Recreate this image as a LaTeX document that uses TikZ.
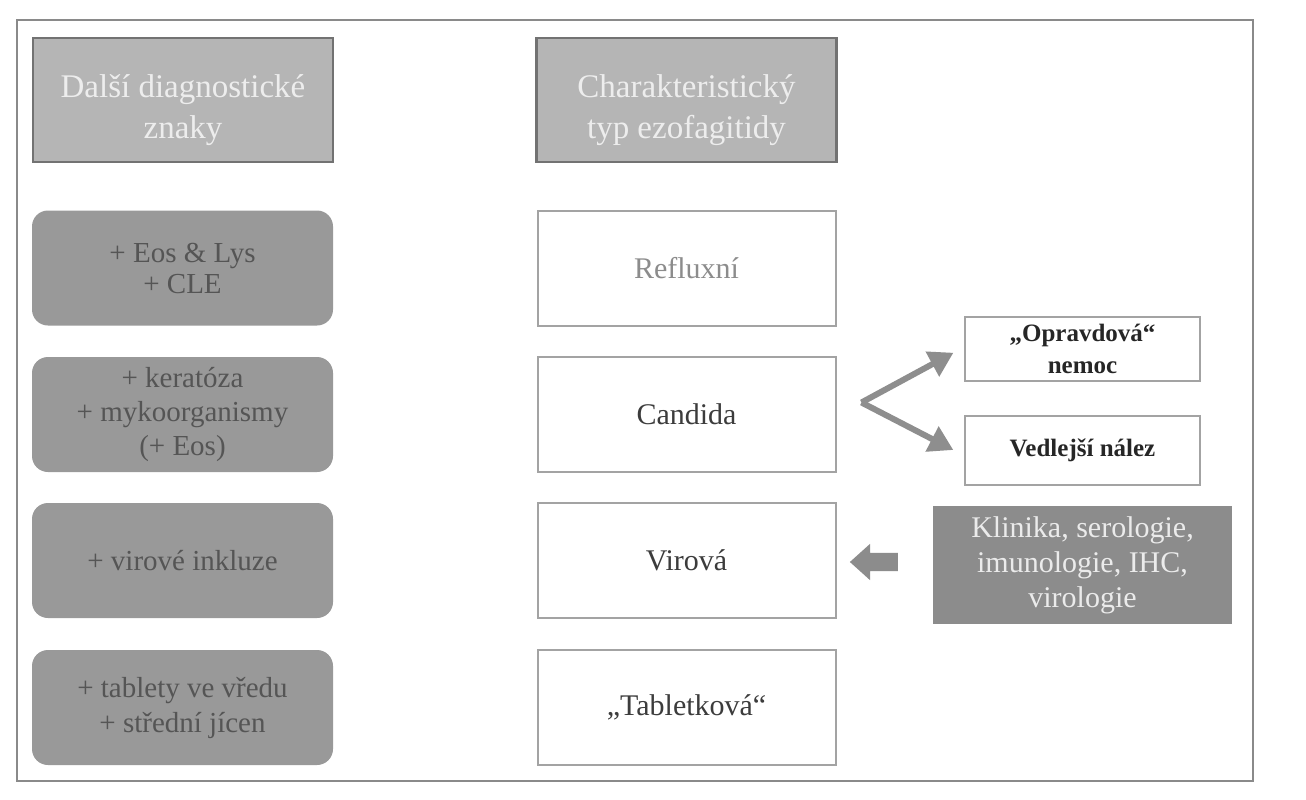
\documentclass[tikz,border=0pt]{standalone}
\usepackage{fontspec}
\setmainfont{Liberation Serif}
\usetikzlibrary{shapes.arrows,arrows.meta}
\definecolor{frame}{HTML}{8A8A8A}
\definecolor{hdrfill}{HTML}{B5B5B5}
\definecolor{hdrline}{HTML}{727272}
\definecolor{lfill}{HTML}{999999}
\definecolor{ltext}{HTML}{555555}
\definecolor{mline}{HTML}{A3A3A3}
\definecolor{dtext}{HTML}{3C3C3C}
\definecolor{kfill}{HTML}{8C8C8C}
\definecolor{arr}{HTML}{8E8E8E}
\tikzset{
  hdr/.style={draw=hdrline, line width=2.5pt, fill=hdrfill,
    minimum width=300pt, minimum height=124pt, inner sep=0pt},
  hdrtext/.style={text=white!93!black, align=center, font=\fontsize{33}{41}\selectfont, inner sep=0pt},
  sign/.style={fill=lfill, rounded corners=16pt, text=ltext, align=center,
    minimum width=301pt, minimum height=115pt, font=\fontsize{29}{31}\selectfont, inner sep=0pt},
  kind/.style={draw=mline, line width=2pt, fill=white, text=dtext, align=center,
    minimum width=298pt, minimum height=115pt, font=\fontsize{30}{32}\selectfont, inner sep=0pt},
  small/.style={draw=mline, line width=2pt, fill=white, text=black!85, align=center,
    minimum width=235pt, font=\fontsize{25}{32}\bfseries\selectfont, inner sep=0pt},
  info/.style={fill=kfill, text=white!92!black, align=center,
    minimum width=299pt, minimum height=118pt, font=\fontsize{30}{35}\selectfont, inner sep=0pt},
  split/.style={draw=arr, line width=6pt, -{Triangle[length=24pt,width=27pt]}, shorten >=12pt}
}
\begin{document}
\begin{tikzpicture}[x=1pt,y=-1pt]
\useasboundingbox (0,0) rectangle (1306,800);
\fill[white] (0,0) rectangle (1306,800);
\draw[frame, line width=2.5pt] (17,20) rectangle (1253,781);

\node[hdr] (hL) at (183,100) {};
\node[hdrtext] (hLt) at ([yshift=-10pt]hL.center) {Další diagnostické\\znaky};
\node[hdr] (hM) at (686.5,100) {};
\node[hdrtext] (hMt) at ([yshift=-10pt]hM.center) {Charakteristický\\typ ezofagitidy};

\node[sign] (s1) at (182.5,268) {+ Eos \& Lys\\+ CLE};
\node[sign, font=\fontsize{29}{34}\selectfont] (s2) at (182.5,414.5) {+ keratóza\\+ mykoorganismy\\(+ Eos)};
\node[sign] (s3) at (182.5,560.5) {+ virové inkluze};
\node[sign, font=\fontsize{29}{35}\selectfont] (s4) at (182.5,707.5) {+ tablety ve vředu\\+ střední jícen};

\node[kind, text=black!45] (k1) at (686.5,268) {Refluxní};
\node[kind] (k2) at (686.5,414.5) {Candida};
\node[kind] (k3) at (686.5,560.5) {Virová};
\node[kind] (k4) at (686.5,707.5) {„Tabletková“};

\node[small, minimum height=64pt] (o1) at (1082.5,349) {„Opravdová“\\nemoc};
\node[small, minimum height=69pt] (o2) at (1082.5,450.5) {Vedlejší nález};

\node[info] (inf) at (1082.5,565) {Klinika, serologie,\\imunologie, IHC,\\virologie};

\coordinate (fork) at ([xshift=25pt,yshift=12pt]k2.east);
\draw[split] (fork) -- ([yshift=2pt]o1.west);
\draw[split] (fork) -- ([yshift=-5pt]o2.west);

\node[single arrow, shape border rotate=180, fill=kfill, minimum height=48pt, minimum width=36pt,
  single arrow head extend=9pt, single arrow tip angle=84, inner xsep=0pt, inner ysep=9pt] (back) at (879,562) {};
\end{tikzpicture}
\end{document}
